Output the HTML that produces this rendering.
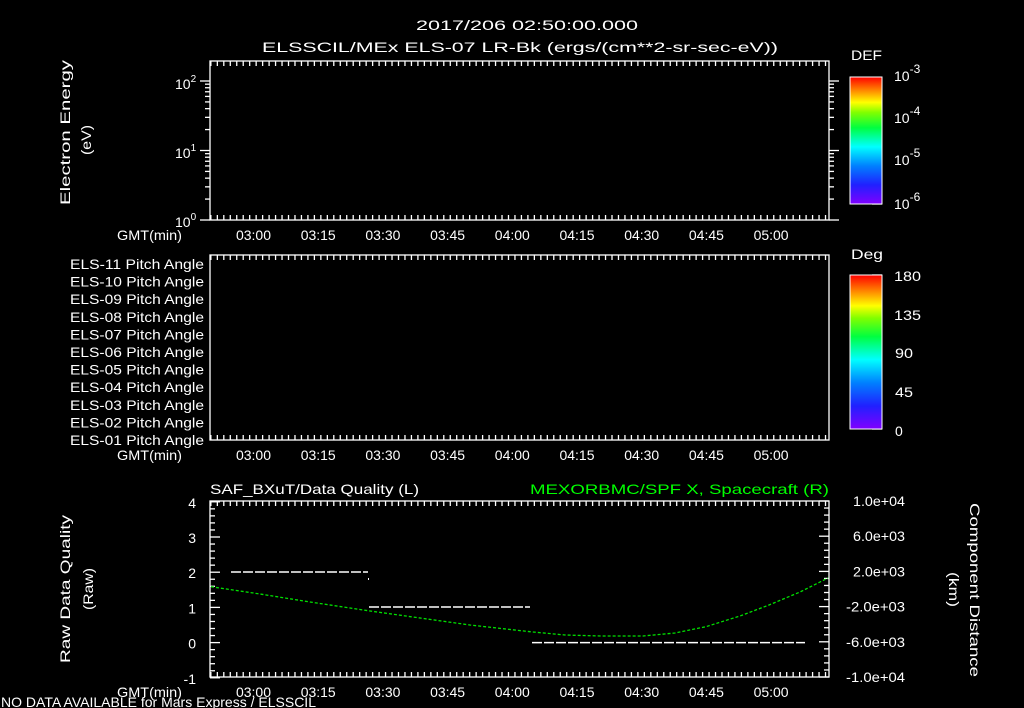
<!DOCTYPE html>
<html><head><meta charset="utf-8"><style>
html,body{margin:0;padding:0;background:#000;width:1024px;height:708px;overflow:hidden}
svg{display:block}
text{font-family:"Liberation Sans",sans-serif;fill:#fff;font-size:14px}
</style></head><body>
<svg id="s" width="1024" height="708" viewBox="0 0 1024 708" xmlns="http://www.w3.org/2000/svg">
<defs>
<linearGradient id="rb" x1="0" y1="1" x2="0" y2="0">
<stop offset="0" stop-color="#8000ff"/><stop offset="0.15" stop-color="#2020ff"/><stop offset="0.3" stop-color="#0080ff"/><stop offset="0.45" stop-color="#00ffff"/><stop offset="0.6" stop-color="#00ff40"/><stop offset="0.72" stop-color="#80ff00"/><stop offset="0.8" stop-color="#ffff00"/><stop offset="0.9" stop-color="#ff8000"/><stop offset="1" stop-color="#ff0000"/>
</linearGradient>
</defs>
<text x="416" y="30" font-size="17" textLength="222" lengthAdjust="spacingAndGlyphs">2017/206 02:50:00.000</text>
<text x="262" y="52" font-size="17" textLength="516" lengthAdjust="spacingAndGlyphs">ELSSCIL/MEx ELS-07 LR-Bk  (ergs/(cm**2-sr-sec-eV))</text>
<g id="g" stroke="#fff" stroke-width="1.3" fill="none"></g>
<text transform="translate(70,205) rotate(-90)" font-size="16" textLength="145" lengthAdjust="spacingAndGlyphs">Electron Energy</text>
<text transform="translate(91,155) rotate(-90)" font-size="16" textLength="30" lengthAdjust="spacingAndGlyphs">(eV)</text>
<text x="175" y="89" font-size="15">10<tspan font-size="10" dy="-7">2</tspan></text>
<text x="175" y="158" font-size="15">10<tspan font-size="10" dy="-7">1</tspan></text>
<text x="175" y="227" font-size="15">10<tspan font-size="10" dy="-7">0</tspan></text>
<text x="851" y="60" font-size="17" textLength="31" lengthAdjust="spacingAndGlyphs">DEF</text>
<rect x="850" y="77" width="32" height="127" fill="url(#rb)" stroke="#fff"/>
<text x="894" y="81" font-size="17">10<tspan font-size="12" dy="-8">-3</tspan></text>
<text x="894" y="123" font-size="17">10<tspan font-size="12" dy="-8">-4</tspan></text>
<text x="894" y="165" font-size="17">10<tspan font-size="12" dy="-8">-5</tspan></text>
<text x="894" y="209" font-size="17">10<tspan font-size="12" dy="-8">-6</tspan></text>
<text x="851" y="259" font-size="17" textLength="32" lengthAdjust="spacingAndGlyphs">Deg</text>
<rect x="850" y="275" width="32" height="154" fill="url(#rb)" stroke="#fff"/>
<text x="894" y="281" font-size="17" textLength="27" lengthAdjust="spacingAndGlyphs">180</text>
<text x="894" y="320" font-size="17" textLength="27" lengthAdjust="spacingAndGlyphs">135</text>
<text x="895" y="358" font-size="17" textLength="18" lengthAdjust="spacingAndGlyphs">90</text>
<text x="895" y="397" font-size="17" textLength="18" lengthAdjust="spacingAndGlyphs">45</text>
<text x="895" y="436" font-size="17">0</text>
<text x="210" y="494" font-size="16" textLength="209" lengthAdjust="spacingAndGlyphs">SAF_BXuT/Data Quality (L)</text>
<text x="530" y="494" font-size="16" textLength="299" lengthAdjust="spacingAndGlyphs" style="fill:#00ff00">MEXORBMC/SPF X, Spacecraft (R)</text>
<text transform="translate(70,663) rotate(-90)" font-size="16" textLength="148" lengthAdjust="spacingAndGlyphs">Raw Data Quality</text>
<text transform="translate(93,610) rotate(-90)" font-size="16" textLength="42" lengthAdjust="spacingAndGlyphs">(Raw)</text>
<text transform="translate(970,503) rotate(90)" font-size="16" textLength="174" lengthAdjust="spacingAndGlyphs">Component Distance</text>
<text transform="translate(949,572) rotate(90)" font-size="16" textLength="35" lengthAdjust="spacingAndGlyphs">(km)</text>
<polyline fill="none" stroke="#00e000" stroke-width="1.3" stroke-dasharray="3,2" points="211,586.7 260,594 310,602 368,610.7 420,618 470,625 530,631.7 565,635 601,636 643,636 675,633 706,626.7 740,616 769,605 800,592 828,578"/>
<g stroke="#fff" stroke-width="1.5" stroke-dasharray="10,2">
<line x1="231" y1="572" x2="368" y2="572"/>
<line x1="369" y1="607" x2="530" y2="607"/>
<line x1="532" y1="642.6" x2="805" y2="642.6"/>
</g>
<rect x="368" y="578" width="1" height="2" fill="#fff"/>
<text x="1" y="707" font-size="12" textLength="315" lengthAdjust="spacingAndGlyphs">NO DATA AVAILABLE for Mars  Express / ELSSCIL</text>
</svg>
<script>
var NS="http://www.w3.org/2000/svg",g=document.getElementById('g'),S=document.getElementById('s');
function L(x1,y1,x2,y2){var l=document.createElementNS(NS,'line');l.setAttribute('x1',x1);l.setAttribute('y1',y1);l.setAttribute('x2',x2);l.setAttribute('y2',y2);g.appendChild(l);}
function T(x,y,s,a,sz,len){var t=document.createElementNS(NS,'text');t.setAttribute('x',x);t.setAttribute('y',y);t.setAttribute('text-anchor',a||'middle');if(sz)t.setAttribute('font-size',sz);if(len){t.setAttribute('textLength',len);t.setAttribute('lengthAdjust','spacingAndGlyphs');}t.textContent=s;S.appendChild(t);}
var X0=210,X1=829,px=64.7/15,t0=254-10*px;
var panels=[[61,220],[255,440],[501,677]];
var labs=['03:00','03:15','03:30','03:45','04:00','04:15','04:30','04:45','05:00'];
panels.forEach(function(p){
 var y0=p[0],y1=p[1];
 g.insertAdjacentHTML('beforeend','<rect x="'+X0+'" y="'+y0+'" width="'+(X1-X0)+'" height="'+(y1-y0)+'"/>');
 for(var m=0;m<=150;m+=1.5){var x=t0+m*px;if(x<=X0||x>=X1)continue;var maj=(Math.abs((m-10)%15)<0.01);var h=maj?10:5;L(x,y0,x,y0+h);L(x,y1,x,y1-h);}
 labs.forEach(function(s,i){T(236+i*64.7,y1+20,s,'start',15,35);});
 T(117,y1+20,'GMT(min)','start',15,65);
});
var dec=69.5;
for(var d=0;d<3;d++)for(var k=1;k<10;k++){var y=220-(d+Math.log10(k))*dec;if(y<61)continue;var h=k==1?10:5;L(X0,y,X0-h,y);L(X1,y,X1+h,y);}
var u=35.2,z=642.6;
for(var v=-1;v<=4.001;v+=0.2){var y=z-v*u;var maj=Math.abs(v-Math.round(v))<0.01;L(X0,y,X0+(maj?10:5),y);}
for(var v=-1;v<=4;v++)T(196,z-v*u+6,String(v),'end',15);
for(var i=0;i<=25;i++){var y=501+i*176/25;var maj=(i%5==0);L(X1,y,X1-(maj?10:5),y);}
['1.0e+04','6.0e+03','2.0e+03','-2.0e+03','-6.0e+03','-1.0e+04'].forEach(function(s,i){var neg=s[0]=='-';T(neg?846:853,501+i*35.2+5,s,'start',14,neg?59:52);});
for(var d=0;d<3;d++)for(var k=1;k<10;k++){var y=204-(d+Math.log10(k))*42.3;var h=k==1?10:5;L(882,y,882-h,y);}
for(var i=0;i<=20;i++){var y=429-i*154/20;L(882,y,882-(i%5==0?10:5),y);}
for(var i=0;i<11;i++){var n=11-i;T(70,269+i*17.6,'ELS-'+(n<10?'0':'')+n+' Pitch Angle','start',14,134);}
</script>
</body></html>
